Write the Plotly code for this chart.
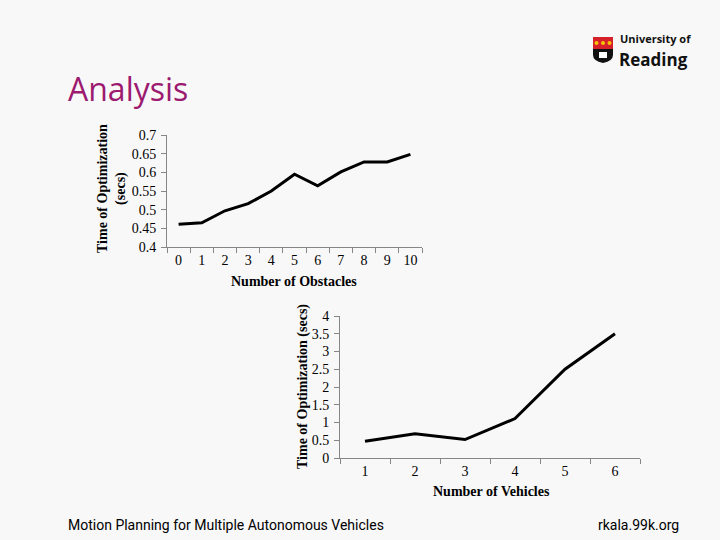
import plotly.graph_objects as go

# ---- data ----
obstacles = [0, 1, 2, 3, 4, 5, 6, 7, 8, 9, 10]
time_obstacles = [0.461, 0.465, 0.497, 0.516, 0.550, 0.595, 0.564, 0.601, 0.628, 0.628, 0.648]

vehicles = [1, 2, 3, 4, 5, 6]
time_vehicles = [0.47, 0.68, 0.52, 1.11, 2.50, 3.50]

top_yticks = [0.4, 0.45, 0.5, 0.55, 0.6, 0.65, 0.7]
bot_yticks = [0, 0.5, 1, 1.5, 2, 2.5, 3, 3.5, 4]

W, H = 720, 540
def fx(px): return px / W
def fy(py): return 1 - py / H

BG = "#f8f8f8"
AX = "#868686"
SERIF = "Liberation Serif, Times New Roman, serif"

fig = go.Figure()
fig.add_trace(go.Scatter(x=[str(v) for v in obstacles], y=time_obstacles, mode="lines",
                         line=dict(color="black", width=3), xaxis="x", yaxis="y",
                         showlegend=False, hoverinfo="skip"))
fig.add_trace(go.Scatter(x=[str(v) for v in vehicles], y=time_vehicles, mode="lines",
                         line=dict(color="black", width=3), xaxis="x2", yaxis="y2",
                         showlegend=False, hoverinfo="skip"))

tickfont = dict(family=SERIF, size=14, color="black")
common = dict(ticks="outside", ticklen=5, tickcolor=AX, showline=True, linecolor=AX,
              linewidth=1, showgrid=False, zeroline=False, tickfont=tickfont,
              automargin=False, fixedrange=True)

fig.update_layout(
    width=W, height=H, autosize=False,
    margin=dict(l=0, r=0, t=0, b=0, pad=0),
    paper_bgcolor=BG, plot_bgcolor=BG, showlegend=False,
    xaxis=dict(domain=[fx(167), fx(422)], anchor="y", type="category",
               range=[-0.5, 10.5], tickson="boundaries", **common),
    yaxis=dict(domain=[fy(247), fy(135)], anchor="x", range=[0.4, 0.7],
               tickvals=top_yticks, ticktext=[f"{v:g}" for v in top_yticks],
               ticklabelstandoff=2, **common),
    xaxis2=dict(domain=[fx(340), fx(640)], anchor="y2", type="category",
                range=[-0.5, 5.5], tickson="boundaries", **common),
    yaxis2=dict(domain=[fy(458), fy(316)], anchor="x2", range=[0, 4],
                tickvals=bot_yticks, ticktext=[f"{v:g}" for v in bot_yticks],
                ticklabelstandoff=2, **common),
)

titlefont = dict(family=SERIF, size=14, color="black", weight="bold")
ann = [
    dict(x=fx(294), y=fy(281), text="Number of Obstacles", font=titlefont),
    dict(x=fx(491), y=fy(491), text="Number of Vehicles", font=titlefont),
    dict(x=fx(112), y=fy(189), text="Time of Optimization<br>(secs)", textangle=-90,
         font=titlefont),
    dict(x=fx(303), y=fy(387), text="Time of Optimization (secs)", textangle=-90,
         font=titlefont),
    dict(x=fx(66), y=fy(89), text="Analysis", xanchor="left",
         font=dict(family="Open Sans, sans-serif", size=32, color="#9c1a6f")),
    dict(x=fx(66), y=fy(525), text="Motion Planning for Multiple Autonomous Vehicles",
         xanchor="left", font=dict(family="Liberation Sans Narrow, Roboto, sans-serif",
                                   size=14, color="black")),
    dict(x=fx(681), y=fy(525), text="rkala.99k.org", xanchor="right",
         font=dict(family="Liberation Sans Narrow, Roboto, sans-serif", size=14, color="black")),
    dict(x=fx(618), y=fy(39), text="<b>University of</b>", xanchor="left",
         font=dict(family="Open Sans, sans-serif", size=11, color="#111")),
    dict(x=fx(617), y=fy(59), text="<b>Reading</b>", xanchor="left",
         font=dict(family="Open Sans, sans-serif", size=17, color="#111")),
]
for a in ann:
    a.update(xref="paper", yref="paper", showarrow=False)
    if "xanchor" not in a:
        a["xanchor"] = "center"
    a["yanchor"] = "middle"
fig.update_layout(annotations=ann)

# logo shield
shapes = [
    dict(type="path", path=f"M {fx(593)} {fy(37)} L {fx(613)} {fy(37)} L {fx(613)} {fy(55)} "
         f"Q {fx(613)} {fy(61)} {fx(603)} {fy(63)} Q {fx(593)} {fy(61)} {fx(593)} {fy(55)} Z",
         fillcolor="#111111", line=dict(width=0)),
    dict(type="rect", x0=fx(593), x1=fx(613), y0=fy(49), y1=fy(37),
         fillcolor="#d6202a", line=dict(width=0)),
    dict(type="rect", x0=fx(599), x1=fx(607), y0=fy(58), y1=fy(52),
         fillcolor="white", line=dict(width=0)),
]
for cx in (596.5, 603, 609.5):
    shapes.append(dict(type="circle", x0=fx(cx - 2), x1=fx(cx + 2), y0=fy(45), y1=fy(41),
                       fillcolor="#f5c400", line=dict(width=0)))
for s in shapes:
    s.update(xref="paper", yref="paper")
fig.update_layout(shapes=shapes)

fig.write_html("out.html", config={"displayModeBar": False},
               post_script="document.body.style.margin='0';document.body.style.overflow='hidden';")
